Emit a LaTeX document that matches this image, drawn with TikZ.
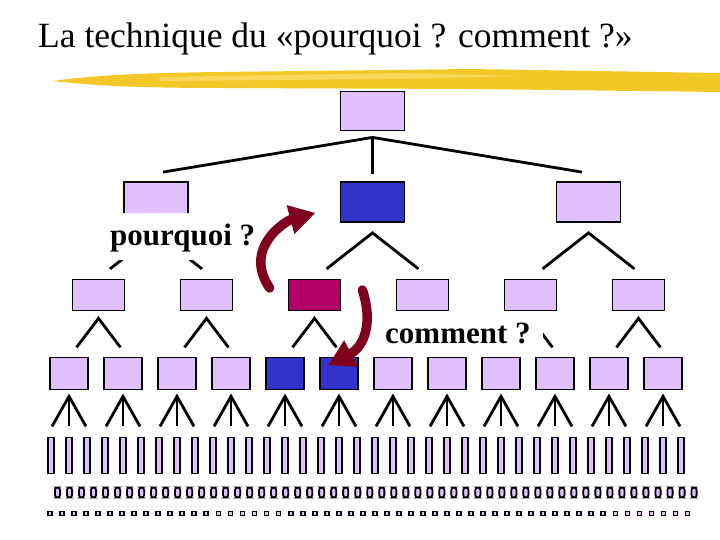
\documentclass[tikz,border=0pt]{standalone}
\usepackage{fontspec}
\setmainfont{Liberation Serif}
\usetikzlibrary{calc,arrows.meta}
\definecolor{lilac}{RGB}{224,192,255}
\definecolor{deepblue}{RGB}{51,51,204}
\definecolor{wine}{RGB}{179,0,102}
\definecolor{arrowred}{RGB}{128,0,32}
\definecolor{brushyellow}{RGB}{242,200,40}
\definecolor{brushlight}{RGB}{248,215,90}

\begin{document}
\begin{tikzpicture}[x=1pt,y=-1pt,
    box/.style={draw,line width=1.8pt,fill=lilac,inner sep=0pt},
    rootbox/.style={box,minimum width=64pt,minimum height=39pt},
    boxA/.style={box,minimum width=64pt,minimum height=40pt},
    boxB/.style={box,minimum width=52pt,minimum height=31pt},
    boxC/.style={box,minimum width=38pt,minimum height=32pt},
    barbox/.style={box,line width=1.8pt,minimum width=6.5pt,minimum height=36pt},
    pillbox/.style={box,line width=1.8pt,rounded corners=2.6pt,minimum width=5.2pt,minimum height=10pt},
    dotbox/.style={box,line width=1.8pt,minimum width=4pt,minimum height=4pt},
    edgeline/.style={line width=2.8pt},
    labeltxt/.style={fill=white,inner ysep=0pt,anchor=base west,font=\bfseries\fontsize{31}{31}\selectfont},
    bendarrow/.style={draw=arrowred,line width=9.5pt,line cap=round,-{Triangle[length=26pt,width=28pt]}}]
  \useasboundingbox (0,0) rectangle (720,540);

  % title and brush stroke
  \fill[brushyellow] (52,81) .. controls (90,76) and (130,73) .. (220,72)
    -- (470,69) -- (720,73) -- (720,92) -- (470,89) -- (220,88)
    .. controls (130,88) and (90,85) .. cycle;
  \fill[brushlight] (160,77) -- (400,73) -- (520,76) -- (400,79) -- (160,81) -- cycle;
  \node[anchor=base west,inner sep=0pt,font=\fontsize{35.5}{40}\selectfont] (title)
    at (38,48) {La technique du «pourquoi ? comment ?»};

  % tree
  \node[rootbox] (R) at (372.5,111) {};
  \node[boxA] (A1) at (156,202) {};
  \node[boxA,fill=deepblue] (A2) at (372.5,202) {};
  \node[boxA] (A3) at (588.5,202) {};

  \coordinate (R-fork) at ($(R.south)+(0,6)$);
  \coordinate (A1-end) at ($(A1.north)+(7,-9)$);
  \coordinate (A2-end) at ($(A2.north)+(0,-7)$);
  \coordinate (A3-end) at ($(A3.north)+(-6.5,-9)$);
  \draw[edgeline] (A1-end) -- (R-fork) -- (A3-end);
  \draw[edgeline] (R-fork) -- (A2-end);

  \foreach \i/\col in {1/lilac,2/lilac,3/wine,4/lilac,5/lilac,6/lilac}
    \node[boxB,fill=\col] (B\i) at ({98.5+108*(\i-1)},295) {};
  \foreach \k/\col in {1/lilac,2/lilac,3/lilac,4/lilac,5/deepblue,6/deepblue,
      7/lilac,8/lilac,9/lilac,10/lilac,11/lilac,12/lilac}
    \node[boxC,fill=\col] (C\k) at ({69+54*(\k-1)},373.5) {};

  \foreach \a in {1,2,3} {
    \coordinate (A\a-fork) at ($(A\a.south)+(0,10)$);
    \coordinate (A\a-l) at ($(A\a-fork)+(-46,36)$);
    \coordinate (A\a-r) at ($(A\a-fork)+(46,36)$);
    \draw[edgeline] (A\a-l) -- (A\a-fork) -- (A\a-r);
  }
  \foreach \b in {1,...,6} {
    \coordinate (B\b-fork) at ($(B\b.south)+(0,7)$);
    \coordinate (B\b-l) at ($(B\b-fork)+(-22,29)$);
    \coordinate (B\b-r) at ($(B\b-fork)+(22,29)$);
    \draw[edgeline] (B\b-l) -- (B\b-fork) -- (B\b-r);
  }
  \foreach \k in {1,...,12} {
    \coordinate (C\k-fork) at ($(C\k.south)+(0,6)$);
    \coordinate (C\k-l) at ($(C\k-fork)+(-17,30)$);
    \coordinate (C\k-m) at ($(C\k-fork)+(0,30)$);
    \coordinate (C\k-r) at ($(C\k-fork)+(17,30)$);
    \draw[edgeline] (C\k-l) -- (C\k-fork) -- (C\k-r);
    \draw[edgeline] (C\k-fork) -- (C\k-m);
  }

  \foreach \j in {1,...,36}
    \node[barbox] (D\j) at ({51+18*(\j-1)},455.5) {};
  \foreach \m in {1,...,54}
    \node[pillbox] (E\m) at ({57.5+12.01*(\m-1)},492.5) {};
  \foreach \m in {1,...,54}
    \node[dotbox] (F\m) at ({50+12.03*(\m-1)},513.5) {};

  % labels
  \node[labeltxt,inner xsep=5pt,text height=32pt,text depth=15pt] (why)
    at (105,245) {pourquoi ?};
  \node[labeltxt,inner xsep=12pt,text height=31pt,text depth=7pt] (how)
    at (373,343) {comment ?};

  % arrows
  \coordinate (why-tail) at ($(B3.west)+(-18,-7)$);
  \coordinate (why-tip) at ($(A2.south west)+(-24,-10)$);
  \coordinate (how-tail) at ($(B3.east)+(21,-5)$);
  \coordinate (how-tip) at ($(C6.west)+(9,-8)$);
  \draw[bendarrow] (why-tail) .. controls ($(why-tail)+(-27,-40)$)
    and ($(why-tip)+(-30,8)$) .. (why-tip);
  \draw[bendarrow] (how-tail) .. controls ($(how-tail)+(10,30)$)
    and ($(how-tip)+(38,-20)$) .. (how-tip);
\end{tikzpicture}
\end{document}
